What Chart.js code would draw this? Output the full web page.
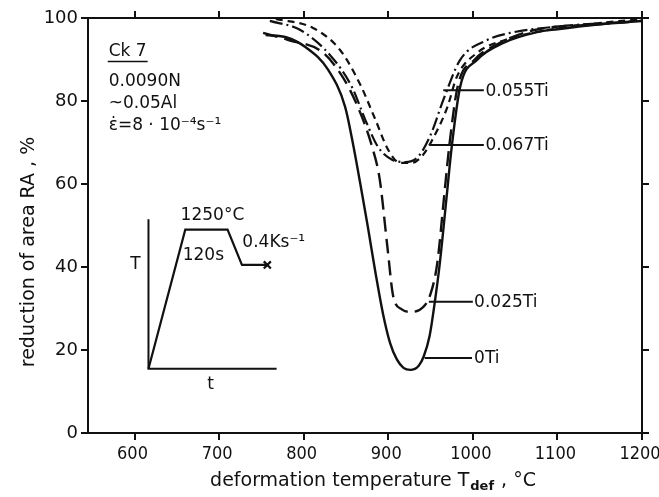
<!DOCTYPE html>
<html><head><meta charset="utf-8">
<script src="https://cdn.jsdelivr.net/npm/chart.js@4"></script>
<style>html,body{margin:0;padding:0;background:#fff;}#wrap{width:659px;height:497px;}</style>
</head><body><div id="wrap"><canvas id="c" width="659" height="497"></canvas></div>
<script>
// ---- data ----
const xTicks = [600, 700, 800, 900, 1000, 1100, 1200];
const yTicks = [0, 20, 40, 60, 80, 100];

const temp0Ti = [755, 780, 802, 829, 849, 858, 867, 876, 885, 894, 902, 910, 918, 926, 936, 942, 949, 955, 961, 969, 975, 985, 1005, 1036, 1076, 1100, 1150, 1200];
const ra0Ti   = [95.9, 95.3, 93, 87.5, 78.6, 70, 60, 49.5, 38.5, 28.5, 21.8, 17.8, 15.7, 15.2, 16.2, 18.5, 23.5, 31.5, 41, 56.9, 68.9, 83.4, 89.9, 94, 96.6, 97.3, 98.5, 99.3];

const temp025Ti = [752, 782, 822, 846, 864, 881, 890, 899, 906, 916, 926, 941, 950, 958, 966, 972, 982, 1002, 1032, 1073, 1150, 1200];
const ra025Ti   = [96.4, 94.7, 91.8, 85.8, 78.6, 68.9, 61, 44.8, 32.8, 29.8, 29.2, 30.3, 33.5, 41, 56.9, 68.9, 83.4, 89.9, 94, 97.1, 98.5, 99.3];

const temp055Ti = [760, 796, 831, 857, 873, 888, 905, 920, 935, 950, 965, 985, 1017, 1044, 1103, 1200];
const ra055Ti   = [99.3, 97.1, 91.1, 83.4, 75.4, 68.9, 65.8, 65.3, 66.5, 71.8, 80.2, 89.9, 94.7, 96.4, 98, 99.3];

const temp067Ti = [767, 811, 843, 867, 885, 900, 914, 928, 941, 952, 970, 981, 1005, 1038, 1103, 1200];
const ra067Ti   = [99.8, 97.6, 92.3, 83.9, 75.4, 68.2, 65.1, 65.1, 67, 70.6, 78.6, 85.8, 91.6, 94.7, 97.6, 99.8];

// inset schematic (temperature-time sketch), in chart data units
const insetAxesX = [616.5, 616.5, 768];
const insetAxesY = [51.5, 15.5, 15.5];
const insetPathX = [616.5, 660, 710, 727, 757];
const insetPathY = [15.5, 49, 49, 40.5, 40.5];

const seriesLabels = ['0.055Ti', '0.067Ti', '0.025Ti', '0Ti'];

function pts(xs, ys) { return xs.map((x, i) => ({x: x, y: ys[i]})); }

const FONT = "'DejaVu Sans', sans-serif";
const FONT_C = "'DejaVu Sans Condensed', 'DejaVu Sans', sans-serif";

const curveBase = {borderColor: '#111', borderWidth: 2.4, pointRadius: 0, fill: false, showLine: true, cubicInterpolationMode: 'monotone'};

const annot = {
  id: 'annot',
  afterDraw(chart) {
    const ctx = chart.ctx, xs = chart.scales.x, ys = chart.scales.y;
    const X = v => xs.getPixelForValue(v), Y = v => ys.getPixelForValue(v);
    ctx.save();
    ctx.fillStyle = '#111'; ctx.strokeStyle = '#111';
    ctx.textBaseline = 'middle'; ctx.textAlign = 'left';
    // leaders + labels
    const leaders = [
      [seriesLabels[0], 965, 1013, 82.6, 1015],
      [seriesLabels[1], 949.5, 1013, 69.4, 1015],
      [seriesLabels[2], 948, 1000, 31.6, 1001.5],
      [seriesLabels[3], 943, 999, 18.1, 1001.5]
    ];
    ctx.lineWidth = 2;
    ctx.font = '17px ' + FONT;
    leaders.forEach(l => {
      ctx.beginPath(); ctx.moveTo(X(l[1]), Y(l[3])); ctx.lineTo(X(l[2]), Y(l[3])); ctx.stroke();
      ctx.fillText(l[0], X(l[4]), Y(l[3]) + 1);
    });
    // top-left notes
    ctx.font = '17px ' + FONT;
    ctx.fillText('Ck 7', X(569.5), Y(91.8));
    const w = ctx.measureText('Ck 7').width;
    ctx.lineWidth = 1.5;
    ctx.beginPath(); ctx.moveTo(X(569.5) - 1, Y(89.5)); ctx.lineTo(X(569.5) + w + 1, Y(89.5)); ctx.stroke();
    ctx.fillText('0.0090N', X(569.5), Y(84.6));
    ctx.fillText('~0.05Al', X(569.5), Y(79.4));
    ctx.fillText('\u03B5\u0307=8 \u00B7 10\u207B\u2074s\u207B\u00B9', X(569.5), Y(74));
    // inset texts
    ctx.fillText('1250°C', X(654.5), Y(52.3));
    ctx.fillText('120s', X(657), Y(42.7));
    ctx.fillText('0.4Ks\u207B\u00B9', X(727.5), Y(46));
    ctx.textAlign = 'center';
    ctx.fillText('T', X(601), Y(40.5));
    ctx.fillText('t', X(690), Y(11.6));
    // axis titles
    ctx.font = '19px ' + FONT;
    ctx.textAlign = 'left'; ctx.textBaseline = 'alphabetic';
    const p1 = 'deformation temperature T', sub = 'def', p2 = ' , \u00B0C';
    const w1 = ctx.measureText(p1).width;
    ctx.font = 'bold 13px ' + FONT; const ws = ctx.measureText(sub).width;
    ctx.font = '19px ' + FONT; const w2 = ctx.measureText(p2).width;
    let x0 = 372 - (w1 + ws + w2) / 2;
    const by = 486;
    ctx.fillText(p1, x0, by);
    ctx.font = 'bold 13px ' + FONT; ctx.fillText(sub, x0 + w1 + 1, by + 4);
    ctx.font = '19px ' + FONT; ctx.fillText(p2, x0 + w1 + ws + 2, by);
    ctx.save();
    ctx.translate(34, 252); ctx.rotate(-Math.PI / 2);
    ctx.textAlign = 'center';
    ctx.fillText('reduction of area RA , %', 0, 0);
    ctx.restore();
    ctx.restore();
  }
};

const axisCommon = {
  type: 'linear',
  border: {display: true, color: '#111', width: 2},
  grid: {drawOnChartArea: false, drawTicks: true, tickLength: 7, color: '#111', lineWidth: 2}
};
const plain = v => String(v);
const noPad = s => { s.paddingLeft = 0; s.paddingRight = 0; s.paddingTop = 0; s.paddingBottom = 0; };

new Chart(document.getElementById('c'), {
  type: 'scatter',
  data: {
    datasets: [
      Object.assign({}, curveBase, {label: seriesLabels[3], data: pts(temp0Ti, ra0Ti)}),
      Object.assign({}, curveBase, {label: seriesLabels[2], data: pts(temp025Ti, ra025Ti), borderDash: [15, 7]}),
      Object.assign({}, curveBase, {label: seriesLabels[0], data: pts(temp055Ti, ra055Ti), borderDash: [13, 4, 2, 4], borderWidth: 2.2}),
      Object.assign({}, curveBase, {label: seriesLabels[1], data: pts(temp067Ti, ra067Ti), borderDash: [7, 5], borderWidth: 2.2}),
      {label: 'insetAxes', data: pts(insetAxesX, insetAxesY), showLine: true, borderColor: '#111', borderWidth: 2, pointRadius: 0, tension: 0},
      {label: 'insetPath', data: pts(insetPathX, insetPathY), showLine: true, borderColor: '#111', borderWidth: 2.2, tension: 0,
        pointRadius: [0, 0, 0, 0, 5], pointStyle: 'crossRot', pointBorderWidth: 2.2, pointBorderColor: '#111'}
    ]
  },
  options: {
    responsive: false, animation: false,
    layout: {padding: 0},
    plugins: {legend: {display: false}, tooltip: {enabled: false}},
    scales: {
      x: Object.assign({}, axisCommon, {
        position: 'bottom', min: 545, max: 1200,
        afterBuildTicks: s => { s.ticks = xTicks.map(v => ({value: v})); },
        afterFit: s => { s.height = 64; noPad(s); },
        ticks: {color: '#111', font: {family: FONT_C, size: 18}, padding: 4, labelOffset: -2, maxRotation: 0, autoSkip: false, callback: plain}
      }),
      x2: Object.assign({}, axisCommon, {
        position: 'top', min: 545, max: 1200,
        afterBuildTicks: s => { s.ticks = xTicks.map(v => ({value: v})); },
        afterFit: s => { s.height = 18; noPad(s); },
        ticks: {display: false}
      }),
      y: Object.assign({}, axisCommon, {
        position: 'left', min: 0, max: 100,
        afterBuildTicks: s => { s.ticks = yTicks.map(v => ({value: v})); },
        afterFit: s => { s.width = 88; noPad(s); },
        ticks: {color: '#111', font: {family: FONT, size: 18}, padding: 3, callback: plain}
      }),
      y2: Object.assign({}, axisCommon, {
        position: 'right', min: 0, max: 100,
        afterBuildTicks: s => { s.ticks = yTicks.map(v => ({value: v})); },
        afterFit: s => { s.width = 17; noPad(s); },
        ticks: {display: false}
      })
    }
  },
  plugins: [annot]
});
</script>
</body></html>
